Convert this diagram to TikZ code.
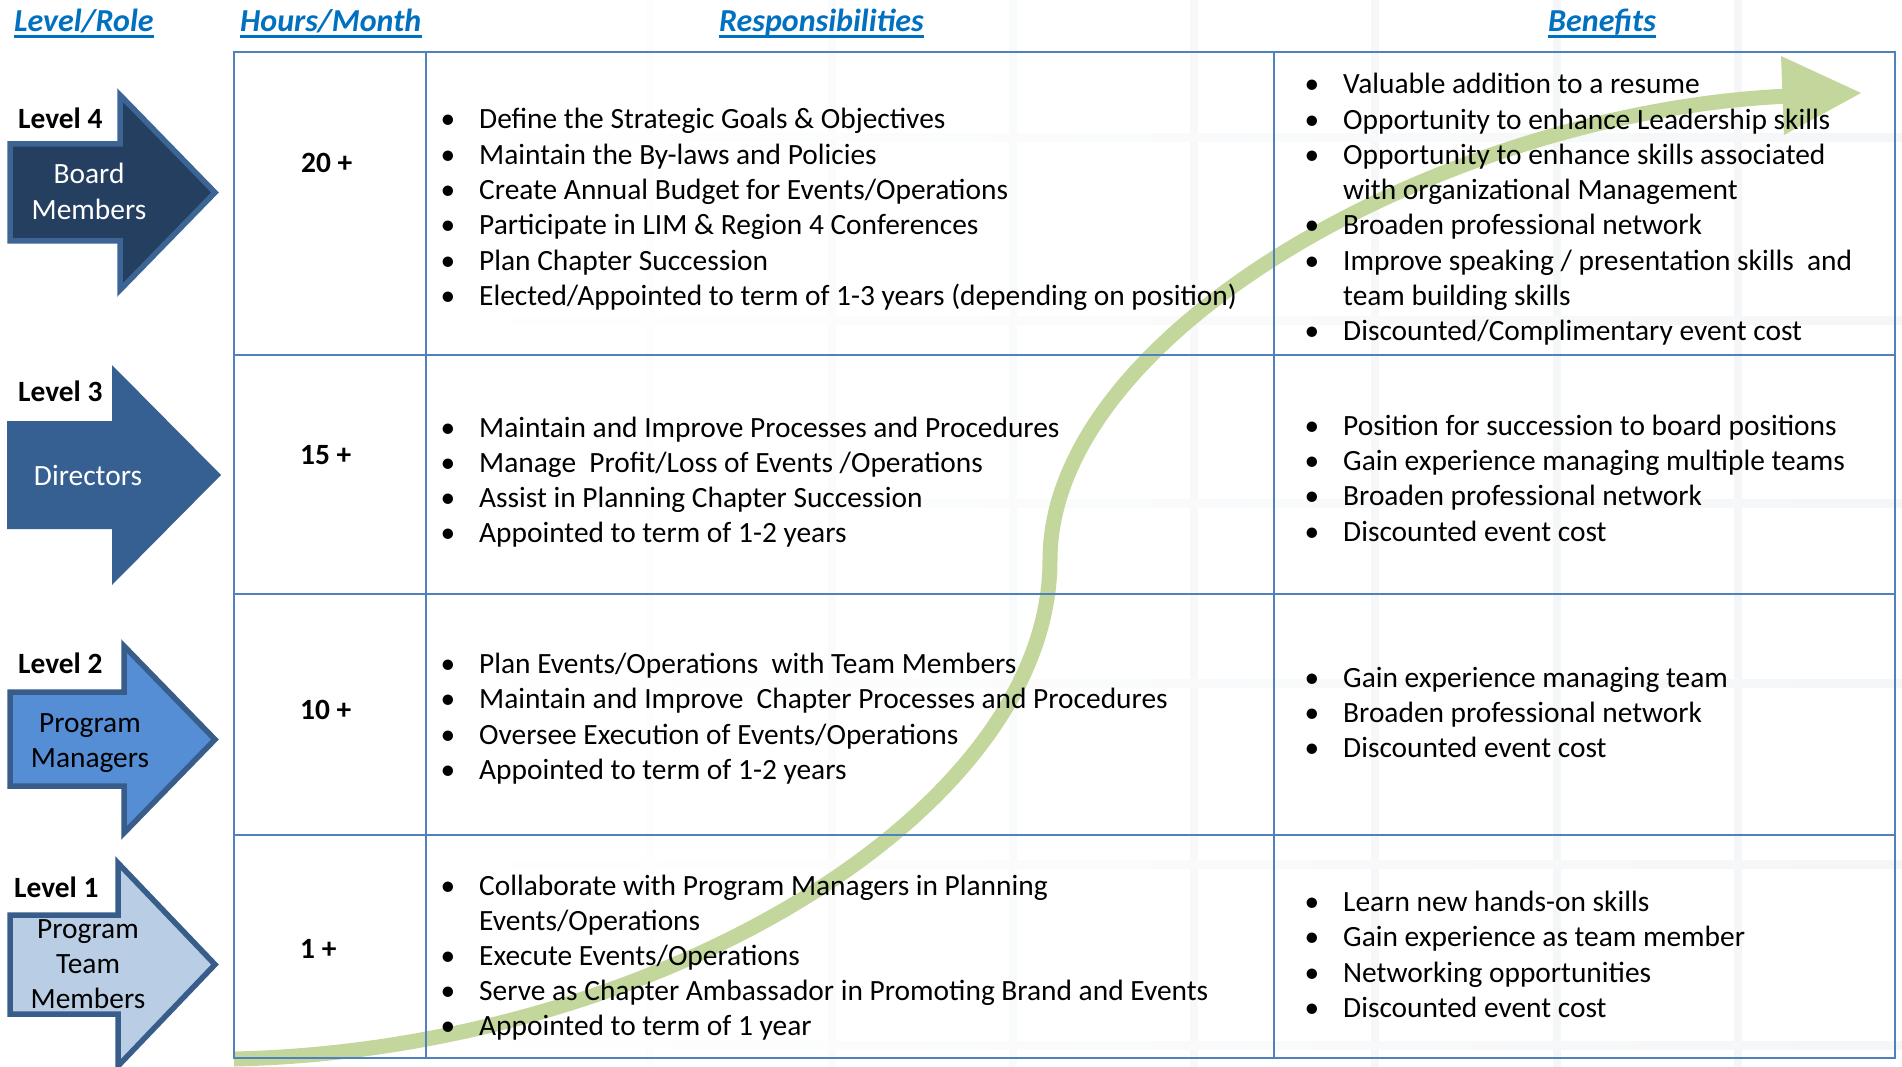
\documentclass[tikz,border=0pt]{standalone}
\usepackage{fontspec}
\setmainfont{Carlito}
\definecolor{hdrblue}{HTML}{0070C0}
\definecolor{tblue}{HTML}{4F81BD}
\definecolor{lvfour}{HTML}{243F60}
\definecolor{lvthree}{HTML}{376092}
\definecolor{lvtwo}{HTML}{558ED5}
\definecolor{lvone}{HTML}{B9CDE5}
\definecolor{lvedge}{HTML}{385D8A}
\definecolor{lvedgelt}{HTML}{3C6494}
\definecolor{arrgreen}{HTML}{C3D69B}
\definecolor{gridc}{HTML}{8C99A6}
\newcommand\tline[4]{\node[txt,anchor=base west] (#1) at (#2,#3) {#4};}
\newcommand\bline[4]{\node[txt,anchor=base] (#1d) at (#2-31,#3) {\textbullet};
  \node[txt,anchor=base west] (#1) at (#2,#3) {#4};}
\begin{document}
\begin{tikzpicture}[x=1pt,y=-1pt,
  txt/.style={inner sep=0pt,font=\fontsize{29.4}{35}\selectfont,text=black},
  boldtxt/.style={txt,font=\fontsize{29.4}{35}\selectfont\bfseries},
  hdr/.style={inner sep=0pt,font=\fontsize{32}{38}\selectfont\bfseries\itshape,text=hdrblue},
  uline/.style={draw=hdrblue,line width=2.4pt},
  tbl/.style={draw=tblue,line width=2.8pt},
  lvarrow/.style={line width=5.5pt,draw=lvedge},
  gridv/.style={line width=8pt},
  growth/.style={draw=arrgreen,line width=15pt}]
\fill[white] (0,0) rectangle (1902,1067);
\useasboundingbox (0,0) rectangle (1902,1067);
\clip (0,0) rectangle (1902,1067);
% faint background grid
\foreach \gx/\gc in {650/2,832/3.5,1013/5,1194/6.5,1375/7.5,1557/8.5,1738/9}
  \draw[gridv,draw=gridc!\gc] (\gx,0) -- (\gx,1067);
\foreach \gy in {138,320,503,683,864,1045}
  \shade[left color=white,right color=gridc!9] (430,\gy-4) rectangle (1902,\gy+4);
% growth arrow
\draw[growth] (234,1059) .. controls (650,1050) and (1050,815) .. (1050,560)
  .. controls (1050,330) and (1450,110) .. (1790,96);
\fill[arrgreen] (1781,56) -- (1861,93) -- (1784,135) -- cycle;
% table
\draw[tbl] (234,52) rectangle (1895,1058);
\draw[tbl] (426,52) -- (426,1058);
\draw[tbl] (1274,52) -- (1274,1058);
\foreach \ry in {355,594,835} \draw[tbl] (234,\ry) -- (1895,\ry);
% level arrows
\draw[lvarrow,draw=lvedgelt,fill=lvfour] (10,144) -- (120,144) -- (120,95) -- (215,192.5) -- (120,290) -- (120,241) -- (10,241) -- cycle;
\fill[lvthree] (7,421) -- (112,421) -- (112,365) -- (221,475) -- (112,585) -- (112,529) -- (7,529) -- cycle;
\draw[lvarrow,fill=lvtwo] (10,692) -- (124,692) -- (124,646) -- (215,739.5) -- (124,833) -- (124,786) -- (10,786) -- cycle;
\draw[lvarrow,fill=lvone] (10,915) -- (118,915) -- (118,863) -- (215,964.5) -- (118,1066) -- (118,1014) -- (10,1014) -- cycle;
% headers
\node[hdr,anchor=base west] (hLR) at (14,32) {Level/Role};
\node[hdr,anchor=base west] (hHM) at (240,32) {Hours/Month};
\node[hdr,anchor=base west] (hRS) at (719,32) {Responsibilities};
\node[hdr,anchor=base west] (hBN) at (1548,32) {Benefits};
\foreach \h in {hLR,hHM,hRS,hBN}
  \draw[uline] ([yshift=-4.5pt]\h.base west) -- ([yshift=-4.5pt]\h.base east);
% level labels
\node[boldtxt,anchor=base west] (l4) at (18,129) {Level 4};
\node[boldtxt,anchor=base west] (l3) at (18,401) {Level 3};
\node[boldtxt,anchor=base west] (l2) at (18,673) {Level 2};
\node[boldtxt,anchor=base west] (l1) at (14,897) {Level 1};
\node[txt,text=white,anchor=base] (a4a) at (89,184) {Board};
\node[txt,text=white,anchor=base] (a4b) at (89,220) {Members};
\node[txt,text=white,anchor=base] (a3a) at (88,485) {Directors};
\node[txt,anchor=base] (a2a) at (90,732) {Program};
\node[txt,anchor=base] (a2b) at (90,767) {Managers};
\node[txt,anchor=base] (a1a) at (88,938) {Program};
\node[txt,anchor=base] (a1b) at (88,973) {Team};
\node[txt,anchor=base] (a1c) at (88,1008) {Members};
% hours
\node[boldtxt,anchor=base west] (h4) at (301,173) {20 +};
\node[boldtxt,anchor=base west] (h3) at (300,464) {15 +};
\node[boldtxt,anchor=base west] (h2) at (300,719) {10 +};
\node[boldtxt,anchor=base west] (h1) at (300,958) {1 +};
% responsibilities
\bline{ra1}{479}{129}{Define the Strategic Goals \& Objectives}
\bline{ra2}{479}{164.3}{Maintain the By-laws and Policies}
\bline{ra3}{479}{199.6}{Create Annual Budget for Events/Operations}
\bline{ra4}{479}{235}{Participate in LIM \& Region 4 Conferences}
\bline{ra5}{479}{270}{Plan Chapter Succession}
\bline{ra6}{479}{305.5}{Elected/Appointed to term of 1-3 years (depending on position)}
\bline{rb1}{479}{437}{Maintain and Improve Processes and Procedures}
\bline{rb2}{479}{472}{Manage\ \ Profit/Loss of Events /Operations}
\bline{rb3}{479}{507}{Assist in Planning Chapter Succession}
\bline{rb4}{479}{542}{Appointed to term of 1-2 years}
\bline{rc1}{479}{673}{Plan Events/Operations\ \ with Team Members}
\bline{rc2}{479}{708}{Maintain and Improve\ \ Chapter Processes and Procedures}
\bline{rc3}{479}{744}{Oversee Execution of Events/Operations}
\bline{rc4}{479}{779}{Appointed to term of 1-2 years}
\bline{rd1}{479}{895}{Collaborate with Program Managers in Planning}
\tline{rd1c}{479}{930}{Events/Operations}
\bline{rd2}{479}{965}{Execute Events/Operations}
\bline{rd3}{479}{1000}{Serve as Chapter Ambassador in Promoting Brand and Events}
\bline{rd4}{479}{1035}{Appointed to term of 1 year}
% benefits
\bline{ba1}{1343}{94}{Valuable addition to a resume}
\bline{ba2}{1343}{129.2}{Opportunity to enhance Leadership skills}
\bline{ba3}{1343}{164.4}{Opportunity to enhance skills associated}
\tline{ba3c}{1343}{199.6}{with organizational Management}
\bline{ba4}{1343}{234.8}{Broaden professional network}
\bline{ba5}{1343}{270}{Improve speaking / presentation skills\ \ and}
\tline{ba5c}{1343}{305.3}{team building skills}
\bline{ba6}{1343}{340.5}{Discounted/Complimentary event cost}
\bline{bb1}{1343}{435}{Position for succession to board positions}
\bline{bb2}{1343}{470}{Gain experience managing multiple teams}
\bline{bb3}{1343}{505.5}{Broaden professional network}
\bline{bb4}{1343}{541}{Discounted event cost}
\bline{bc1}{1343}{687}{Gain experience managing team}
\bline{bc2}{1343}{722}{Broaden professional network}
\bline{bc3}{1343}{757.5}{Discounted event cost}
\bline{bd1}{1343}{911}{Learn new hands-on skills}
\bline{bd2}{1343}{946.5}{Gain experience as team member}
\bline{bd3}{1343}{982}{Networking opportunities}
\bline{bd4}{1343}{1017}{Discounted event cost}
\end{tikzpicture}
\end{document}
